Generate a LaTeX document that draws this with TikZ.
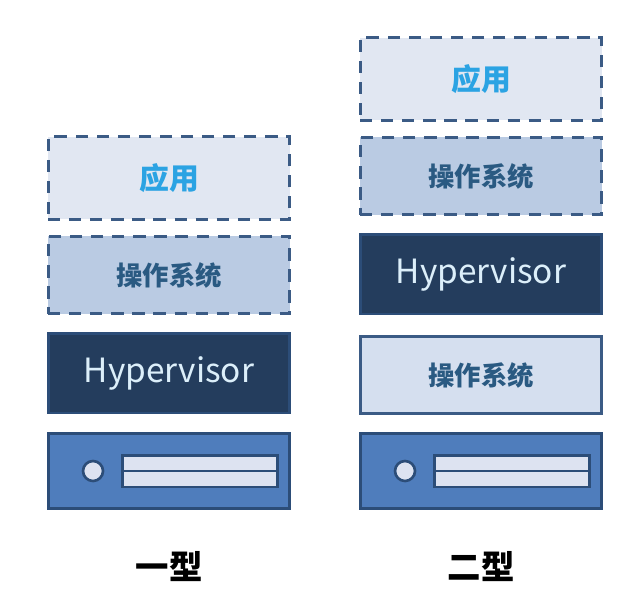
\documentclass[tikz,border=0pt]{standalone}
\usepackage{fontspec}
\setmainfont{Noto Sans CJK SC}
\usepackage{tikz}
\usetikzlibrary{positioning}
\definecolor{edge}{HTML}{3B5B85}
\definecolor{appfill}{HTML}{E1E7F2}
\definecolor{appText}{HTML}{2BA3E3}
\definecolor{osfill}{HTML}{BACBE3}
\definecolor{osText}{HTML}{2A5A82}
\definecolor{hvfill}{HTML}{243D5D}
\definecolor{hvText}{HTML}{DCEFFA}
\definecolor{srvfill}{HTML}{4F7DBC}
\definecolor{srvedge}{HTML}{2C4D78}
\definecolor{slotfill}{HTML}{DDE3F1}
\definecolor{hostfill}{HTML}{D5DFEF}

\begin{document}
\begin{tikzpicture}[x=0.02cm, y=-0.02cm]
\tikzstyle{layer} = [rectangle, draw=edge, line width=1.7pt, minimum width=4.84cm, text centered, font=\bfseries]
\tikzstyle{app} = [layer, dashed, dash pattern=on 7pt off 5pt, fill=appfill, text=appText, minimum height=1.66cm, font=\bfseries\fontsize{17}{20}\selectfont]
\tikzstyle{os} = [layer, dashed, dash pattern=on 7pt off 5pt, fill=osfill, text=osText, minimum height=1.55cm, font=\bfseries\fontsize{15}{18}\selectfont]
\tikzstyle{host} = [layer, fill=hostfill, text=osText, minimum height=1.55cm, font=\bfseries\fontsize{15}{18}\selectfont]
\tikzstyle{hv} = [layer, fill=hvfill, draw=srvedge, text=hvText, minimum height=1.6cm, font=\fontsize{19}{22}\selectfont]
\tikzstyle{srv} = [layer, fill=srvfill, draw=srvedge, minimum height=1.5cm]
\tikzstyle{kind} = [font=\bfseries\fontsize{19}{22}\selectfont]

\useasboundingbox (0,0) rectangle (618,595);

% type one
\node (appA) [app] at (169,178) {应用};
\node (osA) [os] at (169,275) {操作系统};
\node (hvA) [hv] at (169,373) {Hypervisor};
\node (srvA) [srv] at (169,471) {};
\node (kindA) [kind] at (169,567) {一型};

% type two
\node (appB) [app] at (481,79) {应用};
\node (osB) [os] at (481,176) {操作系统};
\node (hvB) [hv] at (481,274) {Hypervisor};
\node (hostB) [host] at (481,375) {操作系统};
\node (srvB) [srv] at (481,471) {};
\node (kindB) [kind] at (481,567) {二型};

% server front panels
\foreach \s in {srvA, srvB} {
  \draw [draw=srvedge, line width=1.5pt, fill=slotfill] ([xshift=-1.52cm]\s.center) circle (0.2cm);
  \draw [draw=srvedge, line width=1.7pt, fill=slotfill] ([xshift=-0.94cm,yshift=0.32cm]\s.center) rectangle ([xshift=2.18cm,yshift=-0.32cm]\s.center);
  \draw [draw=srvedge, line width=0.6pt] ([xshift=-0.94cm]\s.center) -- ([xshift=2.18cm]\s.center);
}
\end{tikzpicture}
\end{document}
